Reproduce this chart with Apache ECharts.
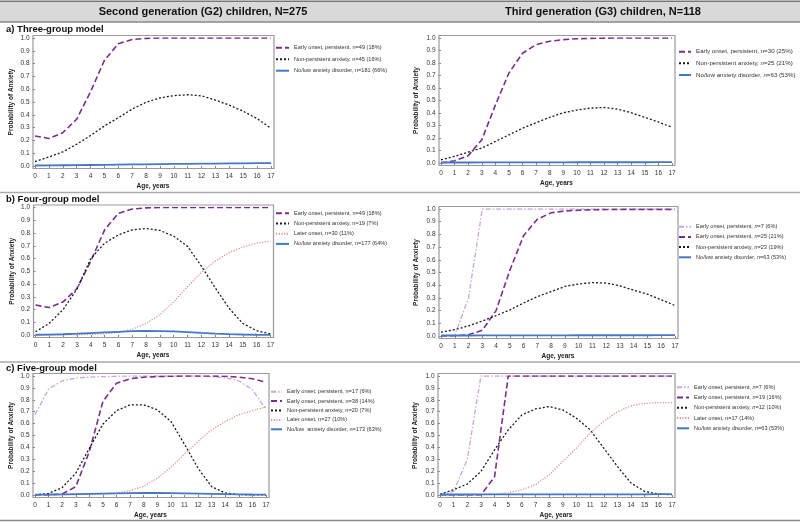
<!DOCTYPE html>
<html><head><meta charset="utf-8">
<script src="https://cdn.jsdelivr.net/npm/echarts@6/dist/echarts.min.js"></script>
<style>html,body{margin:0;padding:0;background:#fff}#c{width:800px;height:522px}</style>
</head><body><div id="c"></div>
<script>
// ---------------- DATA ----------------
const ages = [0,1,2,3,4,5,6,7,8,9,10,11,12,13,14,15,16,17];

const headerG2 = "Second generation (G2) children, N=275";
const headerG3 = "Third generation (G3) children, N=118";
const rowLabels = ["a) Three-group model", "b) Four-group model", "c) Five-group model"];
const xAxisTitle = "Age, years";
const yAxisTitle = "Probability of Anxiety";

// a) G2 three-group
const a_names = ["Early onset, persistent, n=49 (18%)", "Non-persistent anxiety, n=45 (16%)", "No/low anxiety disorder, n=181 (66%)"];
const a_early = [0.235,0.215,0.26,0.365,0.58,0.825,0.955,0.988,0.997,1,1,1,1,1,1,1,1,1];
const a_nonpers = [0.035,0.07,0.11,0.17,0.238,0.313,0.377,0.445,0.498,0.532,0.55,0.557,0.548,0.515,0.475,0.428,0.37,0.295];
const a_low = [0.004,0.005,0.006,0.007,0.008,0.009,0.011,0.012,0.013,0.015,0.016,0.017,0.018,0.019,0.020,0.021,0.022,0.023];

// b) G2 four-group
const c_names = ["Early onset, persistent, n=49 (18%)", "Non-persistent anxiety, n=19 (7%)", "Later onset, n=30 (11%)", "No/low anxiety disorder, n=177 (64%)"];
const c_early = [0.235,0.215,0.26,0.365,0.58,0.825,0.955,0.988,0.997,1,1,1,1,1,1,1,1,1];
const c_nonpers = [0.025,0.092,0.2,0.36,0.6,0.72,0.785,0.825,0.835,0.82,0.775,0.695,0.54,0.37,0.21,0.09,0.034,0.008];
const c_later = [0,0,0.001,0.002,0.005,0.01,0.02,0.045,0.09,0.16,0.26,0.38,0.49,0.58,0.645,0.69,0.72,0.737];
const c_low = [0.002,0.003,0.006,0.01,0.015,0.02,0.025,0.03,0.032,0.031,0.028,0.022,0.016,0.011,0.007,0.004,0.002,0.001];

// c) G2 five-group
const e_names = ["Early onset, persistent, n=17 (6%)", "Early onset, persistent, n=38 (14%)", "Non-persistent anxiety, n=20 (7%)", "Later onset, n=27 (10%)", "No/low  anxiety disorder, n=173 (63%)"];
const e_earlyLight = [0.675,0.89,0.96,0.983,0.99,0.995,0.998,1,1,1,1,1,1,0.995,0.985,0.96,0.885,0.72];
const e_early = [0,0,0.008,0.07,0.365,0.787,0.94,0.977,0.99,0.995,0.998,1,1,1,0.998,0.99,0.977,0.947];
const e_nonpers = [0,0.014,0.062,0.183,0.393,0.596,0.708,0.758,0.758,0.716,0.618,0.427,0.225,0.07,0.017,0.003,0.001,0];
const e_later = [0,0,0.001,0.002,0.005,0.01,0.017,0.037,0.073,0.14,0.233,0.343,0.45,0.548,0.618,0.674,0.708,0.74];
const e_low = [0.003,0.004,0.006,0.008,0.01,0.012,0.014,0.016,0.017,0.017,0.016,0.014,0.012,0.01,0.008,0.006,0.004,0.003];

// a) G3 three-group
const b_names = ["Early onset, persistent, n=30 (25%)", "Non-persistent anxiety, n=25 (21%)", "No/low anxiety disorder, n=63 (53%)"];
const b_early = [0,0.018,0.058,0.185,0.463,0.72,0.878,0.947,0.974,0.987,0.994,0.997,0.999,1,1,1,1,1];
const b_nonpers = [0.026,0.053,0.087,0.119,0.172,0.225,0.278,0.323,0.365,0.402,0.423,0.439,0.444,0.431,0.402,0.365,0.328,0.286];
const b_low = [0.004,0.004,0.004,0.005,0.005,0.005,0.005,0.005,0.005,0.005,0.006,0.006,0.006,0.006,0.006,0.006,0.007,0.007];

// b) G3 four-group
const d_names = ["Early onset, persistent, n=7 (6%)", "Early onset, persistent, n=25 (21%)", "Non-persistent anxiety, n=23 (19%)", "No/low anxiety disorder, n=63 (53%)"];
const d_earlyLight = [0,0.005,0.3,1,1,1,1,1,1,1,1,1,1,1,1,1,1,1];
const d_early = [0,0.002,0.01,0.045,0.2,0.517,0.79,0.92,0.97,0.985,0.99,0.994,0.996,0.997,0.997,0.997,0.997,0.997];
const d_nonpers = [0.03,0.05,0.08,0.118,0.16,0.205,0.26,0.31,0.35,0.39,0.41,0.42,0.417,0.395,0.36,0.33,0.285,0.24];
const d_low = [0.004,0.004,0.004,0.005,0.005,0.005,0.005,0.005,0.005,0.005,0.006,0.006,0.006,0.006,0.006,0.006,0.007,0.007];

// c) G3 five-group
const f_names = ["Early onset, persistent, n=7 (6%)", "Early onset, persistent, n=19 (16%)", "Non-persistent anxiety, n=12 (10%)", "Later onset, n=17 (14%)", "No/low anxiety disorder, n=63 (53%)"];
const f_earlyLight = [0,0.03,0.3,1,1,1,1,1,1,1,1,1,1,1,1,1,1,1];
const f_early = [0,0,0,0,0.154,1,1,1,1,1,1,1,1,1,1,1,1,1];
const f_nonpers = [0.006,0.045,0.092,0.198,0.38,0.547,0.673,0.723,0.743,0.715,0.645,0.547,0.394,0.24,0.1,0.03,0.008,0.002];
const f_later = [0,0,0.001,0.003,0.008,0.017,0.045,0.087,0.17,0.282,0.394,0.52,0.617,0.7,0.75,0.77,0.777,0.777];
const f_low = [0.004,0.004,0.004,0.005,0.005,0.005,0.005,0.005,0.005,0.005,0.006,0.006,0.006,0.006,0.006,0.006,0.007,0.007];

// ---------------- STYLES / LAYOUT ----------------
const FONT = "'Liberation Sans', Arial, Helvetica, sans-serif";
const STY = {
  early:      {color:'#7b2d8f', width:1.6, type:[6,3]},
  earlyLight: {color:'#c9a5da', width:1.3, type:[5,2,1.5,2]},
  nonpers:    {color:'#1a1a1a', width:1.3, type:[2,2]},
  later:      {color:'#e0918f', width:1.3, type:[1.2,1.5]},
  low:        {color:'#4477c8', width:1.8, type:'solid'}
};

const panels = [
  {grid:{left:35, top:38, width:236, height:128}, yGap:18,
   legend:{left:275, top:44.7, itemWidth:13, gap:11.5, fs:5.6, italic:false},
   series:[[a_names[0], a_early, 'early'], [a_names[1], a_nonpers, 'nonpers'], [a_names[2], a_low, 'low']]},
  {grid:{left:441, top:38, width:231, height:125}, yGap:19.5,
   legend:{left:678, top:48.7, itemWidth:12, gap:11.65, fs:6.2, italic:true},
   series:[[b_names[0], b_early, 'early'], [b_names[1], b_nonpers, 'nonpers'], [b_names[2], b_low, 'low']]},
  {grid:{left:35.5, top:207.5, width:235, height:127.5}, yGap:18,
   legend:{left:275, top:210.3, itemWidth:13, gap:10.2, fs:5.6, italic:false},
   series:[[c_names[0], c_early, 'early'], [c_names[1], c_nonpers, 'nonpers'], [c_names[2], c_later, 'later'], [c_names[3], c_low, 'low']]},
  {grid:{left:441, top:209, width:234, height:127}, yGap:19.5,
   legend:{left:678, top:223.7, itemWidth:12, gap:10.2, fs:5.6, italic:true},
   series:[[d_names[0], d_earlyLight, 'earlyLight'], [d_names[1], d_early, 'early'], [d_names[2], d_nonpers, 'nonpers'], [d_names[3], d_low, 'low']]},
  {grid:{left:35, top:376, width:231, height:119}, yGap:18,
   legend:{left:270, top:388.7, itemWidth:11, gap:9.4, fs:5.6, italic:false},
   series:[[e_names[0], e_earlyLight, 'earlyLight'], [e_names[1], e_early, 'early'], [e_names[2], e_nonpers, 'nonpers'], [e_names[3], e_later, 'later'], [e_names[4], e_low, 'low']]},
  {grid:{left:440, top:376, width:232, height:119}, yGap:19,
   legend:{left:676, top:384.3, itemWidth:12, gap:10.25, fs:5.6, italic:true},
   series:[[f_names[0], f_earlyLight, 'earlyLight'], [f_names[1], f_early, 'early'], [f_names[2], f_nonpers, 'nonpers'], [f_names[3], f_later, 'later'], [f_names[4], f_low, 'low']]}
];

// ---------------- BUILD OPTION ----------------
const grid = [], xAxis = [], yAxis = [], series = [], legend = [], graphic = [];

// header band
graphic.push({type:'rect', silent:true, shape:{x:0, y:1, width:800, height:21}, style:{fill:'#d9d9d9', stroke:null}});
graphic.push({type:'line', silent:true, shape:{x1:0, y1:1.2, x2:800, y2:1.2}, style:{stroke:'#777', lineWidth:1.5}});
graphic.push({type:'line', silent:true, shape:{x1:0, y1:22, x2:800, y2:22}, style:{stroke:'#888', lineWidth:1.3}});
graphic.push({type:'text', silent:true, x:203, y:12, style:{text:headerG2, font:"bold 11px " + FONT, fill:'#111', align:'center', verticalAlign:'middle'}});
graphic.push({type:'text', silent:true, x:603, y:12, style:{text:headerG3, font:"bold 11px " + FONT, fill:'#111', align:'center', verticalAlign:'middle'}});
// separators
[192.5, 362, 520.5].forEach(function (y, i) {
  graphic.push({type:'line', silent:true, shape:{x1:0, y1:y, x2:800, y2:y}, style:{stroke: i === 2 ? '#888' : '#aaa', lineWidth:1.4}});
});
// row labels
[29.5, 199.5, 368.5].forEach(function (y, i) {
  graphic.push({type:'text', silent:true, x:6, y:y, style:{text:rowLabels[i], font:"bold 9.5px " + FONT, fill:'#111', align:'left', verticalAlign:'middle'}});
});

panels.forEach(function (p, i) {
  const g = p.grid;
  grid.push({left:g.left, top:g.top, width:g.width, height:g.height, show:false});
  // plot frame
  graphic.push({type:'rect', silent:true, z:10, shape:{x:g.left - 2, y:g.top - 2.5, width:g.width + 5, height:g.height + 5},
    style:{fill:null, stroke:'#9a9a9a', lineWidth:1.2}});
  xAxis.push({gridIndex:i, type:'value', min:0, max:17, interval:1, offset:2.5,
    axisLine:{show:false}, splitLine:{show:false},
    axisTick:{show:true, length:2.5, lineStyle:{color:'#666', width:0.8}},
    axisLabel:{fontSize:6.5, color:'#333', margin:4, fontFamily:FONT},
    name:xAxisTitle, nameLocation:'middle', nameGap:14,
    nameTextStyle:{fontWeight:'bold', fontSize:6.5, color:'#222', fontFamily:FONT}});
  yAxis.push({gridIndex:i, type:'value', min:0, max:1, interval:0.1, offset:2,
    axisLine:{show:false}, splitLine:{show:false},
    axisTick:{show:true, length:2.5, lineStyle:{color:'#666', width:0.8}},
    axisLabel:{fontSize:6.5, color:'#333', margin:3.5, fontFamily:FONT, formatter:function (v) { return v.toFixed(1); }},
    name:yAxisTitle, nameLocation:'middle', nameGap:p.yGap, nameRotate:90,
    nameTextStyle:{fontWeight:'bold', fontSize:6.5, color:'#222', fontFamily:FONT}});
  const names = [];
  p.series.forEach(function (s) {
    const st = STY[s[2]];
    names.push(s[0]);
    series.push({type:'line', name:s[0], xAxisIndex:i, yAxisIndex:i,
      data: ages.map(function (a, k) { return [a, s[1][k]]; }),
      symbol:'none', showSymbol:false, smooth:false, silent:true, animation:false,
      lineStyle:{color:st.color, width:st.width, type:st.type},
      itemStyle:{color:st.color}});
  });
  const L = p.legend;
  legend.push({data:names, orient:'vertical', left:L.left, top:L.top, padding:0,
    itemWidth:L.itemWidth, itemHeight:6, itemGap:L.gap - 6, selectedMode:false,
    itemStyle:{opacity:0},
    formatter: L.italic ? function (n) { return n.replace('n=', '{i|n}='); } : undefined,
    textStyle:{fontSize:L.fs, color:'#333', lineHeight:6, fontFamily:FONT,
      rich:{i:{fontStyle:'italic', fontSize:L.fs, color:'#333', lineHeight:6, fontFamily:FONT}}}});
});

const chart = echarts.init(document.getElementById('c'), null, {renderer:'canvas'});
chart.setOption({animation:false, backgroundColor:'#fff', grid:grid, xAxis:xAxis, yAxis:yAxis, series:series, legend:legend, graphic:graphic});
</script>
</body></html>
